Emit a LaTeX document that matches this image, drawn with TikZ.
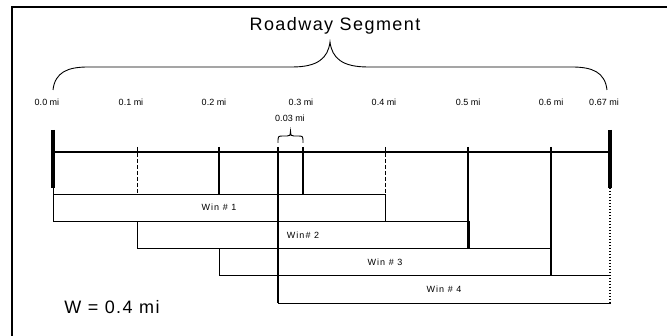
\documentclass[tikz,border=0pt]{standalone}
\usepackage{fontspec}
\setmainfont{Liberation Sans}
\newfontfamily\widefont[LetterSpace=8]{Liberation Sans}
\newfontfamily\winfont[LetterSpace=12]{Liberation Sans}
\usetikzlibrary{positioning, calc}

\begin{document}
\begin{tikzpicture}[
        x=1pt, y=-1pt,
        every node/.style={inner sep=0pt, outer sep=0pt},
        lbl/.style={font=\fontsize{9}{10}\selectfont},
        title/.style={font=\widefont\fontsize{18}{20}\selectfont},
        winbox/.style={draw, line width=0.9pt, minimum width=332pt, minimum height=27.3pt,
                       anchor=north west, font=\winfont\fontsize{9}{10}\selectfont},
        road/.style={line width=1.3pt},
        post/.style={line width=1.8pt},
        endpost/.style={line width=3.2pt},
        halfpost/.style={line width=1pt, dash pattern=on 4pt off 2pt},
        brc/.style={line width=0.9pt}
    ]
        \useasboundingbox (0,0) rectangle (667,336);
        \draw[line width=1.3pt] (12,336) -- (12,7) -- (667,7);

        \node[title] (seg) at (335,26) {Roadway Segment};

        % mile points on the road line
        \coordinate (p0)  at (53,152);
        \coordinate (p1)  at (137,152);
        \coordinate (p2)  at (219,152);
        \coordinate (p27) at (278,152);
        \coordinate (p3)  at (303,152);
        \coordinate (p4)  at (385,152);
        \coordinate (p5)  at (468,152);
        \coordinate (p6)  at (551,152);
        \coordinate (p67) at (610,152);

        % big brace over the segment
        \coordinate (bl)  at (53,90);
        \coordinate (br)  at (607,90);
        \coordinate (tip) at (330,42);
        \draw[brc] (bl) .. controls (55,72) and (68,67) .. (88,67) -- (292,67)
            .. controls (318,67) and (328,58) .. (tip)
            .. controls (332,58) and (342,67) .. (368,67) -- (572,67)
            .. controls (592,67) and (605,72) .. (br);

        \foreach \lx/\txt/\n in {47/0.0/l0, 131/0.1/l1, 214/0.2/l2, 301/0.3/l3,
                                 384/0.4/l4, 468/0.5/l5, 551/0.6/l6, 604/0.67/l67}
            \node[lbl] (\n) at (\lx,102) {\txt~mi};

        % windows
        \node[winbox] (w1) at (53,194)        {Win \# 1};
        \node[winbox] (w2) at (p1 |- w1.south)  {Win\# 2};
        \node[winbox] (w3) at (p2 |- w2.south)  {Win \# 3};
        \node[winbox] (w4) at (p27 |- w3.south) {Win \# 4};

        \draw[road] (p0) -- (p67);

        % posts
        \draw[endpost] ($(p0)+(0,-22)$) -- ($(p0)+(0,36)$);
        \draw[line width=0.9pt] ($(p0)+(0,36)$) -- (w1.north west);
        \draw[halfpost] ($(p1)+(0,-5)$) -- (p1 |- w1.north);
        \draw[post] ($(p2)+(0,-5)$) -- (p2 |- w1.north);
        \draw[post] ($(p27)+(0,-5)$) -- (p27 |- w4.south);
        \draw[post] ($(p3)+(0,-5)$) -- (p3 |- w1.north);
        \draw[halfpost] ($(p4)+(0,-5)$) -- (p4 |- w1.north);
        \draw[post] ($(p5)+(0,-5)$) -- (p5 |- w2.south);
        \draw[post] ($(p6)+(0,-5)$) -- (p6 |- w3.south);
        \draw[endpost] ($(p67)+(0,-22)$) -- ($(p67)+(0,36)$);
        \draw[white, line width=2.5pt] (w4.north east) -- (w4.south east);
        \draw[line width=2pt, dash pattern=on 1.5pt off 1.5pt] ($(p67)+(0,36)$) -- (p67 |- w4.south);

        % gap between 0.27 and 0.3
        \node[lbl] (gap) at (290,118) {0.03~mi};
        \draw[brc] ($(p27)+(0,-9)$) .. controls (278,136) .. (283,136) -- (287,136)
            .. controls (290,136) .. (290.5,131)
            .. controls (291,136) .. (294,136) -- (298,136)
            .. controls (303,136) .. ($(p3)+(0,-9)$);

        \node[title] (wlen) at (112,307) {W = 0.4 mi};
    \end{tikzpicture}
\end{document}
